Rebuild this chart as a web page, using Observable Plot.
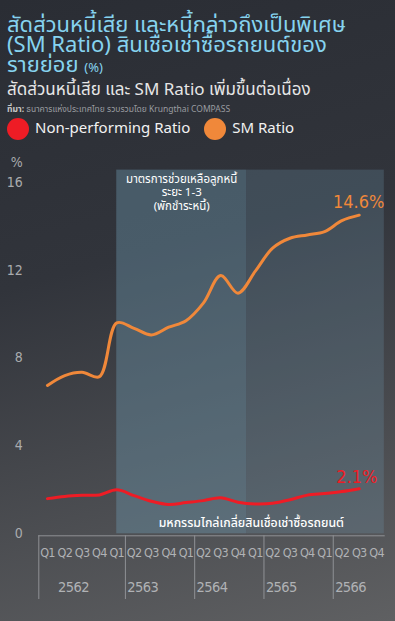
<!DOCTYPE html>
<html>
<head>
<meta charset="utf-8">
<script src="https://cdn.jsdelivr.net/npm/d3@7"></script>
<script src="https://cdn.jsdelivr.net/npm/@observablehq/plot@0.6"></script>
<style>
  html, body { margin: 0; padding: 0; }
  body {
    width: 395px; height: 621px; overflow: hidden;
    background: linear-gradient(165deg, #2a2d34 0%, #31343b 40%, #5f6062 100%);
    font-family: "Noto Sans Thai", "Noto Sans", Roboto, sans-serif;
    position: relative;
  }
  #header { position: absolute; left: 0; top: 0; width: 395px; height: 145px; }
  #title { position: absolute; left: 7px; top: 16px; color: #86d3ef; font-size: 22px; line-height: 20px; white-space: nowrap; }
  #title small { font-size: 13px; }
  #subtitle { position: absolute; left: 7px; top: 80px; color: #e6e6e6; font-size: 17px; line-height: 20px; white-space: nowrap; }
  #source { position: absolute; left: 7px; top: 103px; color: #9a9ca0; font-size: 8.5px; white-space: nowrap; }
  #source b { color: #c8c8c8; }
  #legend { position: absolute; left: 7px; top: 117px; display: flex; align-items: center; color: #f2f2f2; font-size: 15px; }
  .sw { width: 22px; height: 22px; border-radius: 50%; display: inline-block; margin-right: 6px; }
  .item { display: flex; align-items: center; margin-right: 14px; }
  #chart { position: absolute; left: 0; top: 145px; }
  #chart g[aria-label="x-axis tick label"] text { letter-spacing: -0.7px; }
  #chart g.years text { letter-spacing: -0.6px; }
</style>
</head>
<body>
<div id="header">
  <div id="title">สัดส่วนหนี้เสีย และหนี้กล่าวถึงเป็นพิเศษ<br>(SM Ratio) สินเชื่อเช่าซื้อรถยนต์ของ<br>รายย่อย <small>(%)</small></div>
  <div id="subtitle">สัดส่วนหนี้เสีย และ SM Ratio เพิ่มขึ้นต่อเนื่อง</div>
  <div id="source"><b>ที่มา:</b> ธนาคารแห่งประเทศไทย รวบรวมโดย Krungthai COMPASS</div>
  <div id="legend"></div>
</div>
<div id="chart"></div>
<script>
// ---- data ----
const quarters = ["Q1","Q2","Q3","Q4","Q1","Q2","Q3","Q4","Q1","Q2","Q3","Q4","Q1","Q2","Q3","Q4","Q1","Q2","Q3","Q4"];
const years = ["2562","2563","2564","2565","2566"];
const yearCenters = [1.5, 5.5, 9.5, 13.5, 17.5];
const yearSeparators = [-0.5, 4.5, 8.5, 12.5, 16.5];
const nplRatio = [1.6,1.7,1.75,1.77,2.0,1.74,1.48,1.33,1.42,1.51,1.64,1.44,1.36,1.39,1.55,1.76,1.83,1.92,2.05];
const smRatio = [6.75,7.2,7.35,7.15,9.6,9.35,9.05,9.4,9.7,10.5,11.75,10.95,11.95,13.0,13.45,13.6,13.75,14.25,14.5];
const seriesNames = ["Non-performing Ratio", "SM Ratio"];
const seriesColors = ["#ee1c25", "#f0883a"];
const yTicks = [0, 4, 8, 12, 16];
const periods = [
  {start: 4, end: 11.5, label: "มาตรการช่วยเหลือลูกหนี้\nระยะ 1-3\n(พักชำระหนี้)", opacity: 0.4},
  {start: 11.5, end: 19.45, label: "", opacity: 0.25}
];
const eventLabel = "มหกรรมไกล่เกลี่ยสินเชื่อเช่าซื้อรถยนต์";
const endLabels = ["2.1%", "14.6%"];
const endLabelX = [19.05, 19.45];
const endLabelY = [2.57, 15.07];

// ---- legend ----
const legend = document.getElementById("legend");
seriesNames.forEach((n, i) => {
  const it = document.createElement("div");
  it.className = "item";
  it.innerHTML = `<span class="sw" style="background:${seriesColors[i]}"></span>${n}`;
  legend.appendChild(it);
});

const rows = [];
nplRatio.forEach((v, i) => rows.push({i, v, s: seriesNames[0]}));
smRatio.forEach((v, i) => rows.push({i, v, s: seriesNames[1]}));

const bandTop = 16.55;
const sepBottom = -2.9;
const cond = "'Liberation Sans Narrow', 'DejaVu Sans Condensed', Roboto, sans-serif";
const thai = "'Noto Sans Thai', 'Noto Sans', sans-serif";

const chart = Plot.plot({
  width: 395,
  height: 476,
  marginLeft: 38.3,
  marginRight: 10.3,
  marginTop: 36.7,
  marginBottom: 87.7,
  style: {background: "transparent", overflow: "visible"},
  x: {domain: [-0.5, 19.5], axis: null},
  y: {domain: [0, 16], axis: null},
  color: {domain: seriesNames, range: seriesColors},
  marks: [
    Plot.rectX(periods, {x1: "start", x2: "end", y1: 0, y2: bandTop, fill: "#6e98ae", fillOpacity: d => d.opacity}),
    Plot.text(periods, {x: d => (d.start + d.end) / 2, y: 15.55, text: "label", fill: "#ffffff", fontSize: 11.5, lineHeight: 1.15, fontFamily: thai}),
    Plot.axisY({ticks: yTicks, tickSize: 0, tickPadding: 16, fontSize: 14, fill: "#a9abae", fontFamily: cond, label: null}),
    Plot.text(["%"], {frameAnchor: "top-left", dx: -16, dy: -25, textAnchor: "end", fill: "#a9abae", fontSize: 14, fontFamily: cond}),
    Plot.line(rows, {x: "i", y: "v", z: "s", stroke: "s", strokeWidth: 3, curve: "catmull-rom"}),
    Plot.text([eventLabel], {x: 11.77, y: 0.5, fill: "#ffffff", fontSize: 12.3, fontWeight: 500, fontFamily: thai}),
    Plot.text([0, 1], {x: d => endLabelX[d], y: d => endLabelY[d], text: d => endLabels[d], fill: d => seriesColors[d], textAnchor: "end", fontSize: 18, fontWeight: 300, fontFamily: cond}),
    Plot.ruleY([0], {x1: -0.5, x2: 19.5, stroke: "#8f9195", strokeWidth: 1, dy: 2}),
    Plot.ruleX(yearSeparators, {y1: 0, y2: sepBottom, stroke: "#8f9195", strokeWidth: 1, dy: 2}),
    Plot.axisX({ticks: d3.range(20), tickFormat: i => quarters[i], tickSize: 0, tickPadding: 14, fontSize: 12.5, fill: "#b0b2b5", fontFamily: cond, label: null, anchor: "bottom"}),
    Plot.text(years, {x: (d, i) => yearCenters[i], frameAnchor: "bottom", dy: 58, fill: "#b0b2b5", fontSize: 14.5, fontFamily: cond, className: "years"})
  ]
});
document.getElementById("chart").appendChild(chart);
</script>
</body>
</html>
